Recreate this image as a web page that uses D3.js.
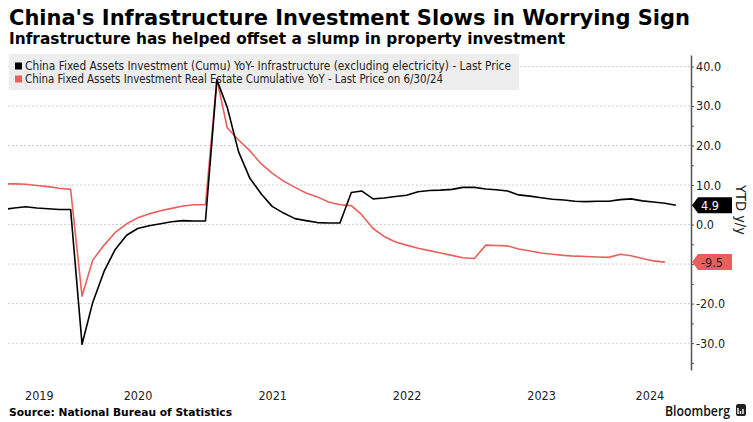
<!DOCTYPE html>
<html><head><meta charset="utf-8">
<script src="https://cdn.jsdelivr.net/npm/d3@7"></script>
<style>body{margin:0;background:#fff}svg{display:block}</style>
</head><body><svg id="c" width="753" height="422"></svg>
<script>
const months = [
 "2019-07","2019-08","2019-09","2019-10","2019-11","2019-12",
 "2020-01","2020-02","2020-03","2020-04","2020-05","2020-06","2020-07","2020-08","2020-09","2020-10","2020-11","2020-12",
 "2021-01","2021-02","2021-03","2021-04","2021-05","2021-06","2021-07","2021-08","2021-09","2021-10","2021-11","2021-12",
 "2022-01","2022-02","2022-03","2022-04","2022-05","2022-06","2022-07","2022-08","2022-09","2022-10","2022-11","2022-12",
 "2023-01","2023-02","2023-03","2023-04","2023-05","2023-06","2023-07","2023-08","2023-09","2023-10","2023-11","2023-12",
 "2024-01","2024-02","2024-03","2024-04","2024-05","2024-06","2024-07"];
const infrastructure = [
 3.8, 4.2, 4.5, 4.2, 4.0, 3.8,
 3.8, -30.3, -19.7, -11.8, -6.3, -2.7, -1.0, -0.3, 0.2, 0.7, 1.0, 0.9,
 0.9, 36.6, 29.7, 18.4, 11.8, 7.8, 4.6, 2.9, 1.5, 1.0, 0.5, 0.4,
 0.4, 8.1, 8.5, 6.5, 6.7, 7.1, 7.4, 8.3, 8.6, 8.7, 8.9, 9.4,
 9.4, 9.0, 8.8, 8.5, 7.5, 7.2, 6.8, 6.4, 6.2, 5.9, 5.8, 5.9,
 5.9, 6.3, 6.5, 6.0, 5.7, 5.4, 4.9];
const realEstate = [
 10.3, 10.3, 10.2, 9.9, 9.6, 9.2,
 8.9, -18.1, -9.0, -5.2, -2.0, 0.2, 1.7, 2.7, 3.5, 4.1, 4.7, 5.0,
 5.0, 36.8, 24.5, 21.4, 18.7, 15.4, 13.0, 11.0, 9.4, 8.0, 7.0, 5.7,
 5.0, 4.8, 2.5, -1.0, -3.0, -4.4, -5.2, -6.0, -6.6, -7.2, -7.8, -8.4,
 -8.6, -5.2, -5.3, -5.4, -6.2, -6.7, -7.2, -7.5, -7.8, -8.0, -8.1, -8.2,
 -8.3, -7.5, -7.9, -8.6, -9.2, -9.5, null];
const yTickValues = [-35,-30,-25,-20,-15,-10,-5,0,5,10,15,20,25,30,35,40];
const yLabelValues = [-30,-20,0,10,20,30,40];
const gridValues = [-30,-20,-10,0,10,20,30,40];
const yearLabels = ["2019","2020","2021","2022","2023","2024"];
const seriesNames = [
 "China Fixed Assets Investment (Cumu) YoY- Infrastructure (excluding electricity) - Last Price",
 "China Fixed Assets Investment Real Estate Cumulative YoY - Last Price on 6/30/24"];
const seriesColors = ["#000000", "#e8605d"];
const titleText = "China's Infrastructure Investment Slows in Worrying Sign";
const subtitleText = "Infrastructure has helped offset a slump in property investment";
const sourceText = "Source: National Bureau of Statistics";
const axisTitle = "YTD y/y";

const FONT = "'DejaVu Sans Condensed','DejaVu Sans',sans-serif";
const svg = d3.select("#c");
const parse = d3.timeParse("%Y-%m");
const L = 8, R = 691, T = 55, B = 370, H = 422;
const x = d3.scaleTime().domain([new Date(2019,6,15), new Date(2024,7,11)]).range([L, R]);
const y = d3.scaleLinear().domain([-36.8, 42.9]).range([B, T]);

// title
svg.append("text").attr("x",9).attr("y",25).text(titleText)
  .attr("font-family",FONT).attr("font-weight","bold").attr("font-size",21).attr("fill","#000")
  .attr("textLength",681).attr("lengthAdjust","spacingAndGlyphs");
svg.append("text").attr("x",9).attr("y",44).text(subtitleText)
  .attr("font-family",FONT).attr("font-weight","bold").attr("font-size",15).attr("fill","#000")
  .attr("textLength",556).attr("lengthAdjust","spacingAndGlyphs");

// gridlines
svg.append("g").selectAll("line").data(gridValues).join("line")
  .attr("x1",L).attr("x2",R).attr("y1",d=>y(d)).attr("y2",d=>y(d))
  .attr("stroke","#cfcfcf").attr("stroke-width",1).attr("stroke-dasharray","2,2");

// legend
const lg = svg.append("g");
lg.append("rect").attr("x",9).attr("y",54).attr("width",510).attr("height",36).attr("fill","#ededed");
seriesNames.forEach((n,i)=>{
  lg.append("rect").attr("x",15).attr("y",62.5+i*13).attr("width",7).attr("height",7).attr("fill",seriesColors[i]);
  lg.append("text").attr("x",25).attr("y",70+i*13).text(n)
    .attr("font-family",FONT).attr("font-size",11.5).attr("fill","#222")
    .attr("textLength", i===0 ? 486 : 418).attr("lengthAdjust","spacingAndGlyphs");
});

// y axis
const yAxis = d3.axisRight(y).tickValues(yTickValues).tickSize(3).tickSizeOuter(0)
  .tickFormat(d => yLabelValues.includes(d) ? d.toFixed(1) : "");
const ga = svg.append("g").attr("transform",`translate(${R},0)`).call(yAxis);
ga.select(".domain").attr("stroke","#555").attr("stroke-width",1.5);
ga.selectAll(".tick line").attr("stroke","#555");
ga.selectAll(".tick text").attr("font-family",FONT).attr("font-size",12.5).attr("fill","#222").attr("x",5);

// x labels: centred on visible part of each year
const [d0,d1] = x.domain();
yearLabels.forEach(yr=>{
  const a = new Date(+yr,0,1), b = new Date(+yr+1,0,1);
  const s = a < d0 ? d0 : a, e = b > d1 ? d1 : b;
  svg.append("text").attr("x",(x(s)+x(e))/2).attr("y",400).attr("text-anchor","middle").text(yr)
    .attr("font-family",FONT).attr("font-size",12.5).attr("fill","#222");
});

// lines
svg.append("defs").append("clipPath").attr("id","clip").append("rect")
  .attr("x",L).attr("y",0).attr("width",R-L).attr("height",H);
const data = [infrastructure, realEstate];
const line = d3.line().defined(d=>d.v!=null).x(d=>x(d.t)).y(d=>y(d.v));
[1,0].forEach(i=>{
  const pts = months.map((m,k)=>({t:parse(m), v:data[i][k]}));
  svg.append("path").datum(pts).attr("d",line).attr("fill","none")
    .attr("stroke",seriesColors[i]).attr("stroke-width",1.6).attr("stroke-linejoin","round")
    .attr("clip-path","url(#clip)");
});

// last value tags
const lastVals = data.map(s => s.filter(v=>v!=null).slice(-1)[0]);
lastVals.forEach((v,i)=>{
  const yc = y(v);
  svg.append("path")
    .attr("d",`M${R+1},${yc} L${R+7},${yc-8} L${R+41},${yc-8} L${R+41},${yc+8} L${R+7},${yc+8} Z`)
    .attr("fill",seriesColors[i]);
  svg.append("text").attr("x",R+10).attr("y",yc+4.5).text(v.toFixed(1))
    .attr("font-family",FONT).attr("font-size",12.5).attr("fill", i===0 ? "#fff" : "#1a1a1a");
});

// axis title
svg.append("text").attr("transform","translate(736,210) rotate(90)").attr("text-anchor","middle")
  .text(axisTitle).attr("font-family",FONT).attr("font-size",14.5).attr("fill","#222");

// source and logo
svg.append("text").attr("x",9).attr("y",416).text(sourceText)
  .attr("font-family",FONT).attr("font-weight","bold").attr("font-size",11).attr("fill","#000")
  .attr("textLength",223).attr("lengthAdjust","spacingAndGlyphs");
svg.append("text").attr("x",665).attr("y",416).text("Bloomberg")
  .attr("font-family","'Open Sans','Liberation Sans',sans-serif").attr("font-weight",600).attr("font-size",15).attr("fill","#111")
  .attr("textLength",65).attr("lengthAdjust","spacingAndGlyphs");
const ic = svg.append("g").attr("transform","translate(736,404)");
ic.append("rect").attr("width",10).attr("height",12).attr("rx",2).attr("fill","#222");
[[2,6],[4.5,3],[7,5]].forEach(([bx,bh])=>ic.append("rect").attr("x",bx-0.7).attr("y",10-bh).attr("width",1.4).attr("height",bh).attr("fill","#fff"));
</script></body></html>
